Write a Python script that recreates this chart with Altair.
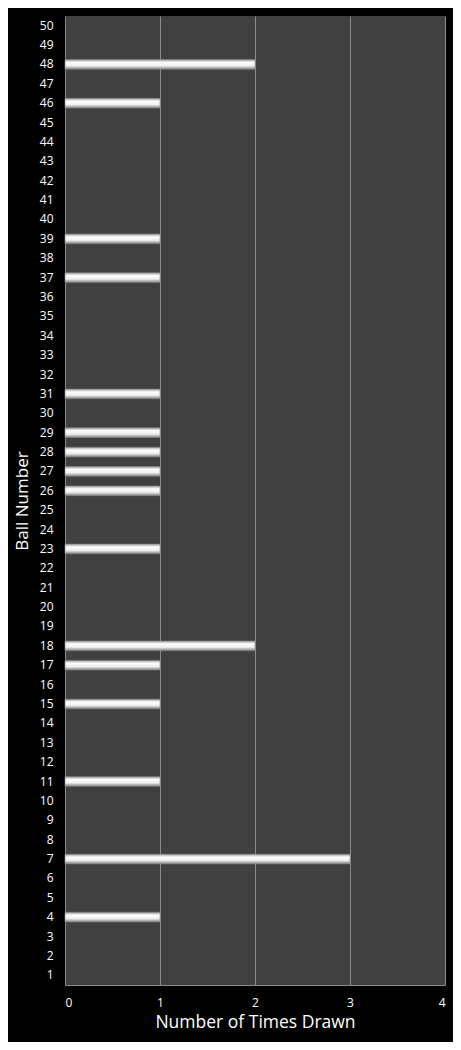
import altair as alt
import pandas as pd

balls = list(range(1, 51))
drawn = {48: 2, 46: 1, 39: 1, 37: 1, 31: 1, 29: 1, 28: 1, 27: 1, 26: 1,
         23: 1, 18: 2, 17: 1, 15: 1, 11: 1, 7: 3, 4: 1}
counts = [drawn.get(b, 0) for b in balls]

df = pd.DataFrame({"ball": [str(b) for b in balls], "count": counts})
order = [str(b) for b in reversed(balls)]

grad = alt.Gradient(
    gradient="linear", x1=0, y1=0, x2=0, y2=1,
    stops=[alt.GradientStop(color="#a0a0a0", offset=0),
           alt.GradientStop(color="#ffffff", offset=0.3),
           alt.GradientStop(color="#eeeeee", offset=0.65),
           alt.GradientStop(color="#808080", offset=1)])

FONT = "Open Sans"

chart = alt.Chart(df).transform_filter("datum.count > 0").mark_bar(
    color=grad, stroke="#8a8a8a", strokeWidth=0.6).encode(
    x=alt.X("count:Q", scale=alt.Scale(domain=[0, 4], nice=False),
            axis=alt.Axis(title="Number of Times Drawn", values=[0, 1, 2, 3, 4],
                          format="d", grid=True, gridColor="#8c8c8c", gridWidth=1,
                          domainColor="#8c8c8c", ticks=False, labelPadding=12,
                          labelColor="white", labelFontSize=12, labelFont=FONT,
                          titleColor="white", titleFontSize=17.5, titleFont=FONT,
                          titleFontWeight="normal", titlePadding=5)),
    y=alt.Y("ball:O", sort=order,
            scale=alt.Scale(domain=order, paddingInner=0.5, paddingOuter=0.25),
            axis=alt.Axis(title="Ball Number", domain=False, ticks=False, labelPadding=12,
                          labelColor="white", labelFontSize=12, labelFont=FONT,
                          titleColor="white", titleFontSize=17, titleFont=FONT,
                          titleFontWeight="normal", titlePadding=8)),
).properties(
    width=380, height=969, background="black",
    autosize=alt.AutoSizeParams(type="none"),
    padding={"left": 57, "top": 8, "right": 8, "bottom": 57},
).configure_view(fill="#404040", stroke=None)

chart.save("out.html", embed_options={"renderer": "svg", "actions": False})
